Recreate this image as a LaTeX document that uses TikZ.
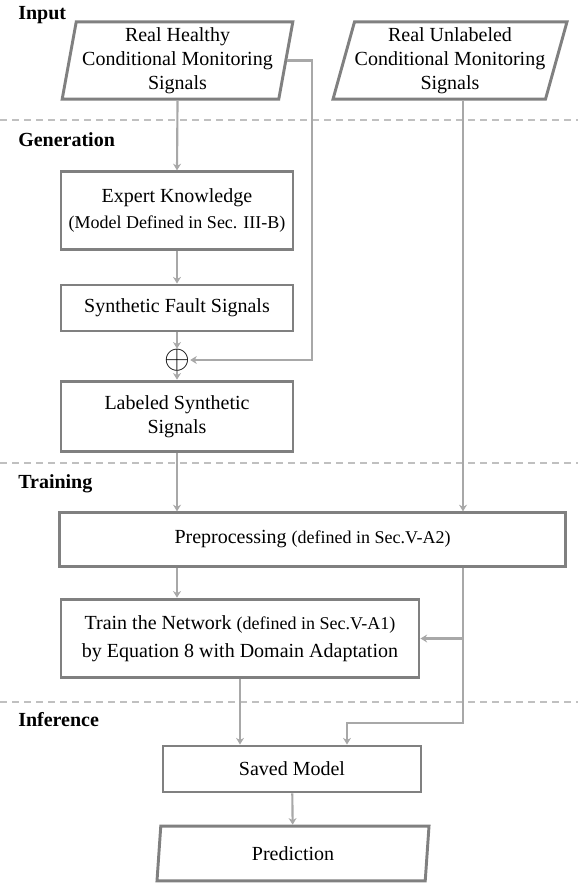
\documentclass[tikz,border=0pt]{standalone}
\usepackage{fontspec}
\setmainfont{Liberation Serif}
\usetikzlibrary{positioning, shapes.geometric, arrows.meta}

\definecolor{boxgray}{HTML}{808080}
\definecolor{linegray}{HTML}{A8A8A8}
\definecolor{dashgray}{HTML}{C0C0C0}

\newcommand{\smalltxt}[1]{{\fontsize{13.5}{16}\selectfont #1}}

\begin{document}
\begin{tikzpicture}[x=0.75pt, y=-0.75pt,
    font=\fontsize{15}{18}\selectfont,
    >={Stealth[length=5pt, width=6pt]},
    box/.style={draw=boxgray, line width=2.2pt, rectangle, align=center, inner sep=0pt},
    data/.style={draw=boxgray, line width=2.2pt, trapezium, trapezium stretches body, align=center, inner sep=0pt},
    conn/.style={->, draw=linegray, line width=1.6pt},
    sep/.style={dashgray, line width=1.1pt, dash pattern=on 5pt off 4pt},
    stage/.style={font=\fontsize{15}{18}\selectfont\bfseries, anchor=west, inner sep=0pt}]
    \useasboundingbox (0,0) rectangle (578,884);

    % Stage labels and separators
    \node (In) [stage] at (18,15) {Input};
    \node (Ge) [stage] at (18,140) {Generation};
    \node (Tr) [stage] at (18,484) {Training};
    \node (Inf) [stage] at (18,720) {Inference};
    \draw[sep] (0,120) -- (578,120);
    \draw[sep] (0,463) -- (578,463);
    \draw[sep] (0,702) -- (578,702);

    % Define nodes for the flow
    \node (A) [data, trapezium left angle=78, trapezium right angle=102, minimum width=173pt, minimum height=58pt] at (177.5,60.5) {Real Healthy\\Conditional Monitoring\\Signals};
    \node (B) [data, trapezium left angle=72, trapezium right angle=108, minimum width=175.5pt, minimum height=58pt] at (450,60.5) {Real Unlabeled\\Conditional Monitoring\\Signals};
    \node (C) [box, minimum width=174pt, minimum height=58pt] at (177,210.5) {Expert Knowledge\\[1pt]\smalltxt{(Model Defined in Sec. III-B)}};
    \node (D) [box, minimum width=174pt, minimum height=34.5pt] at (177,308) {Synthetic Fault Signals};
    \node (P) [font=\fontsize{23}{23}\selectfont, inner sep=0pt] at (177,360) {$\oplus$};
    \node (E) [box, minimum width=174pt, minimum height=53pt] at (177,416.5) {Labeled Synthetic\\Signals};
    \node (F) [box, minimum width=379pt, minimum height=40pt] at (312.5,539.5) {Preprocessing \smalltxt{(defined in Sec.V-A2)}};
    \node (G) [box, minimum width=268.5pt, minimum height=59pt] at (240,638.5) {Train the Network \smalltxt{(defined in Sec.V-A1)}\\[3pt]by Equation 8 with Domain Adaptation};
    \node (H) [box, minimum width=193.5pt, minimum height=34.5pt] at (292,769) {Saved Model};
    \node (I) [data, trapezium left angle=75, trapezium right angle=105, minimum width=204pt, minimum height=41pt] at (293,853.5) {Prediction};

    % Helper points for the right-hand lines
    \coordinate (R1) at (312,0);
    \coordinate (R2) at (463,0);
    \coordinate (R3) at (347,723);

    % Draw arrows for the data flow
    \draw[conn] (A.south) -- (C.north);
    \draw[conn] (C) -- (D);
    \draw[conn] (D) -- (P);
    \draw[conn] (A.east) -- (A.east -| R1) -- (P -| R1) -- (P);
    \draw[conn] (P) -- (E);
    \draw[conn] (E.south) -- (E.south |- F.north);
    \draw[conn] (B.south -| R2) -- (F.north -| R2);
    \draw[conn] (F.south -| E.south) -- (G.north -| E.south);
    \draw[conn] (F.south -| R2) |- (R3) -- (R3 |- H.north);
    \draw[conn] (G.east -| R2) -- (G.east);
    \draw[conn] (G.south) -- (G.south |- H.north);
    \draw[conn] (H) -- (I);

\end{tikzpicture}
\end{document}
